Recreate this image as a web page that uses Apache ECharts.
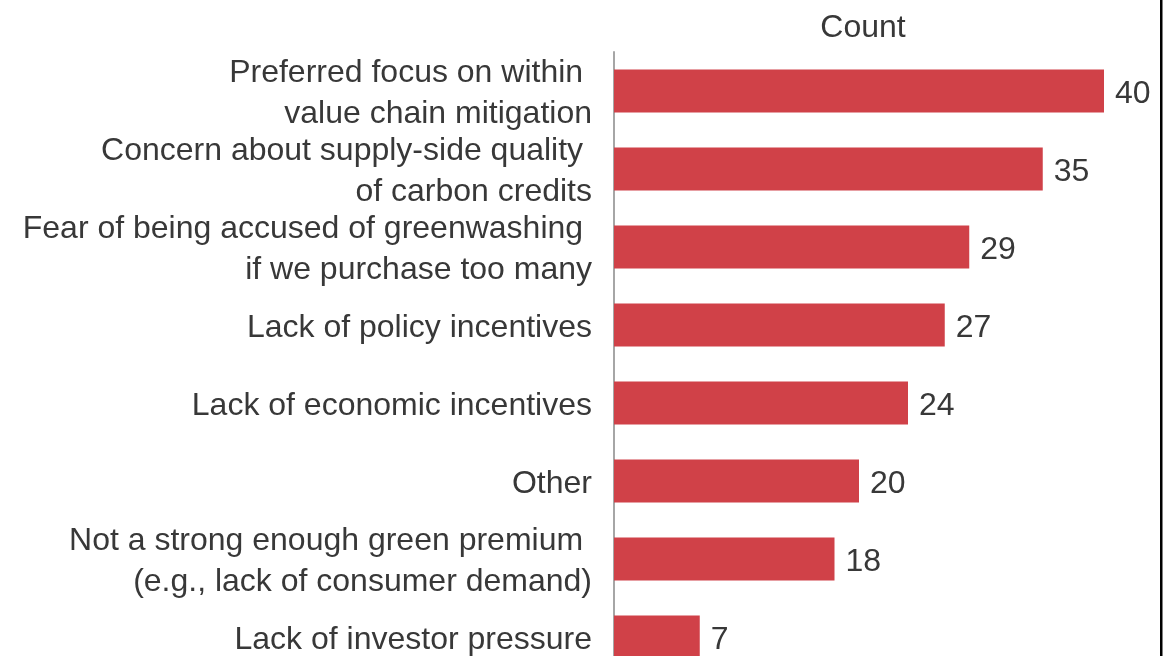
<!DOCTYPE html>
<html>
<head>
<meta charset="utf-8">
<script src="https://cdn.jsdelivr.net/npm/echarts@6/dist/echarts.min.js"></script>
<style>
  html, body { margin: 0; padding: 0; background: #ffffff; }
  #chart { width: 1170px; height: 656px; }
</style>
</head>
<body>
<div id="chart"></div>
<script>
// Reasons cited, top to bottom
const categories = [
  'Preferred focus on within \nvalue chain mitigation',
  'Concern about supply-side quality \nof carbon credits',
  'Fear of being accused of greenwashing \nif we purchase too many',
  'Lack of policy incentives',
  'Lack of economic incentives',
  'Other',
  'Not a strong enough green premium \n(e.g., lack of consumer demand)',
  'Lack of investor pressure'
];
const counts = [40, 35, 29, 27, 24, 20, 18, 7];
const axisTitle = 'Count';

const chart = echarts.init(document.getElementById('chart'), null, { renderer: 'canvas' });
const textFont = 'Liberation Sans, Arial, sans-serif';
const textColor = '#383838';

// A thin spacer line above each label nudges the text slightly below the bar centre.
function categoryLabel(value) {
  return '{s| }\n' + value.split('\n').map(function (line) { return '{t|' + line + '}'; }).join('\n');
}

chart.setOption({
  animation: false,
  backgroundColor: '#ffffff',
  title: {
    text: axisTitle,
    left: 858,
    top: 7,
    textAlign: 'center',
    textStyle: { fontFamily: textFont, fontSize: 32, fontWeight: 'normal', color: textColor }
  },
  grid: {
    left: 614, top: 52, width: 490, height: 624,
    containLabel: false,
    outerBoundsMode: 'none'
  },
  xAxis: {
    type: 'value',
    min: 0,
    max: 40,
    show: false
  },
  yAxis: {
    type: 'category',
    inverse: true,
    data: categories,
    axisLine: { show: true, lineStyle: { color: '#a6a6a6', width: 2 } },
    axisTick: { show: false },
    splitLine: { show: false },
    axisLabel: {
      interval: 0,
      hideOverlap: false,
      margin: 22,
      align: 'right',
      formatter: categoryLabel,
      rich: {
        t: { fontFamily: textFont, fontSize: 32, lineHeight: 41, color: textColor, align: 'right' },
        s: { fontSize: 6, lineHeight: 6, align: 'right' }
      }
    }
  },
  series: [{
    type: 'bar',
    data: counts,
    barWidth: 43,
    itemStyle: { color: '#d04148' },
    label: {
      show: true,
      position: 'right',
      distance: 11,
      offset: [0, 3],
      fontFamily: textFont,
      fontSize: 32,
      color: textColor
    }
  }],
  graphic: [{
    type: 'rect',
    shape: { x: 1160, y: 0, width: 2.5, height: 656 },
    style: { fill: '#000000' },
    silent: true
  }]
});
</script>
</body>
</html>
